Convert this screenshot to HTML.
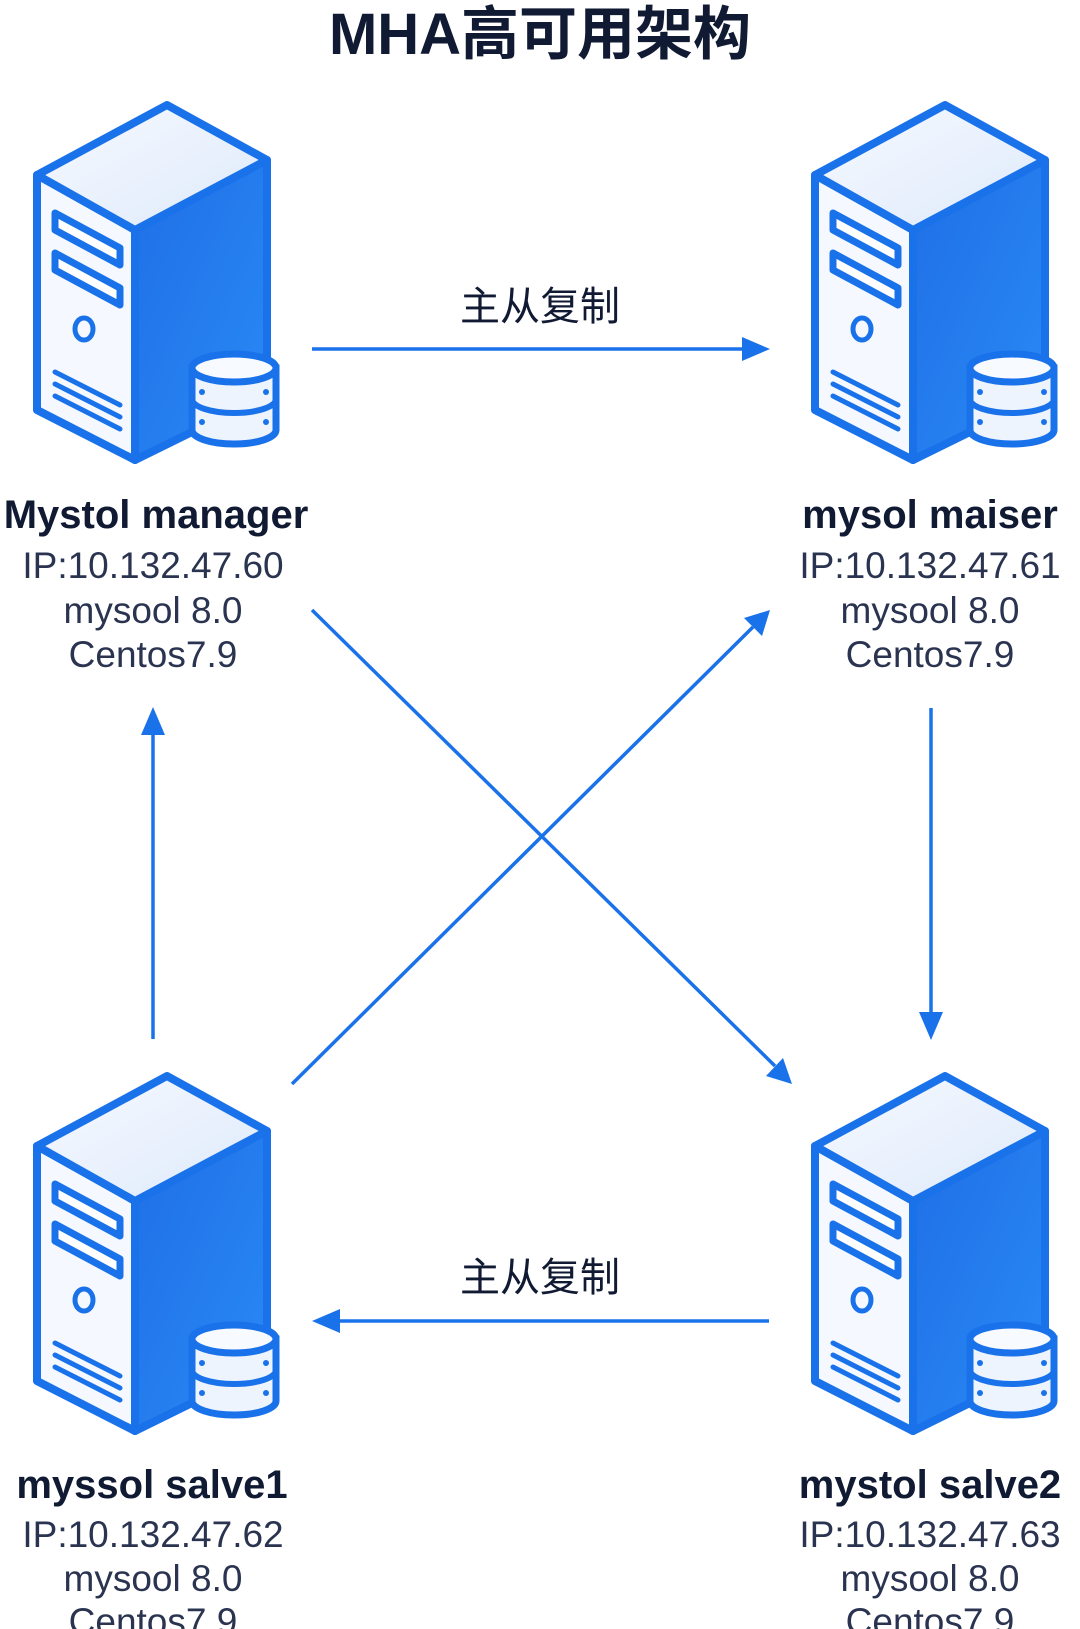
<!DOCTYPE html>
<html><head><meta charset="utf-8"><style>
body{margin:0;background:#fff;}
svg{display:block}
</style></head><body>
<svg width="1080" height="1629" viewBox="0 0 1080 1629" xmlns="http://www.w3.org/2000/svg">
<defs>
<linearGradient id="tp" x1="0" y1="0" x2="1" y2="1"><stop offset="0" stop-color="#f7faff"/><stop offset="1" stop-color="#dde9fb"/></linearGradient>
<linearGradient id="rs" x1="0" y1="0" x2="1" y2="1"><stop offset="0" stop-color="#1f6fe6"/><stop offset="1" stop-color="#2a8af5"/></linearGradient>
<g id="srv">
 <path d="M135,230 L267,160 L267,395 L135,460 Z" fill="url(#rs)" stroke="#1a72ea" stroke-width="8" stroke-linejoin="round"/>
 <path d="M37,175 L135,230 L135,460 L37,410 Z" fill="#f5f9ff" stroke="#1a72ea" stroke-width="8" stroke-linejoin="round"/>
 <path d="M167,105 L267,160 L135,230 L37,175 Z" fill="url(#tp)" stroke="#1a72ea" stroke-width="8" stroke-linejoin="round"/>
 <path d="M55,213 L120,248 L120,265 L55,230 Z" fill="#fff" stroke="#1a72ea" stroke-width="7" stroke-linejoin="round"/>
 <path d="M55,253 L120,288 L120,305 L55,270 Z" fill="#fff" stroke="#1a72ea" stroke-width="7" stroke-linejoin="round"/>
 <ellipse cx="84" cy="329" rx="9" ry="11" fill="none" stroke="#1a72ea" stroke-width="5"/>
 <path d="M55,372 L120,405 M55,384 L120,417 M55,396 L120,429" stroke="#1a72ea" stroke-width="5" stroke-linecap="round"/>
 <path d="M192,368 L192,430 A42,14 0 0 0 276,430 L276,368 Z" fill="#eef4fd" stroke="#1a72ea" stroke-width="7"/>
 <path d="M192,399 A42,14 0 0 0 276,399" fill="none" stroke="#1a72ea" stroke-width="6"/>
 <ellipse cx="234" cy="368" rx="42" ry="14" fill="#f7faff" stroke="#1a72ea" stroke-width="7"/>
 <circle cx="202" cy="392" r="3" fill="#1a72ea"/><circle cx="266" cy="392" r="3" fill="#1a72ea"/>
 <circle cx="202" cy="422" r="3" fill="#1a72ea"/><circle cx="266" cy="422" r="3" fill="#1a72ea"/>
</g>
</defs>
<text x="540" y="54" text-anchor="middle" font-family="Liberation Sans, Noto Sans CJK SC, sans-serif" font-size="58" font-weight="bold" fill="#111a33">MHA高可用架构</text>
<use href="#srv"/>
<use href="#srv" transform="translate(778,0)"/>
<use href="#srv" transform="translate(0,971)"/>
<use href="#srv" transform="translate(778,971)"/>
<g stroke="#1a72ea" stroke-width="3.5" fill="none">
<line x1="312" y1="349" x2="742" y2="349"/>
<path d="M742,337 L770,349 L742,361 Z" fill="#1a72ea" stroke="none"/>
<line x1="769" y1="1321" x2="340" y2="1321"/>
<path d="M340,1309 L312,1321 L340,1333 Z" fill="#1a72ea" stroke="none"/>
<line x1="153" y1="1039" x2="153" y2="735"/>
<path d="M141,735 L153,707 L165,735 Z" fill="#1a72ea" stroke="none"/>
<line x1="931" y1="708" x2="931" y2="1012"/>
<path d="M919,1012 L931,1040 L943,1012 Z" fill="#1a72ea" stroke="none"/>
<line x1="312" y1="610" x2="775" y2="1066"/>
<path d="M766,1076 L792,1084 L783,1058 Z" fill="#1a72ea" stroke="none"/>
<line x1="292" y1="1084" x2="753" y2="627"/>
<path d="M744,618 L770,610 L762,636 Z" fill="#1a72ea" stroke="none"/>
</g>
<g font-family="Liberation Sans, Noto Sans CJK SC, sans-serif" fill="#111a33" text-anchor="middle">
<text x="540" y="320" font-size="40">主从复制</text>
<text x="540" y="1291" font-size="40">主从复制</text>
<g font-size="40" font-weight="bold">
<text x="156" y="528">Mystol manager</text>
<text x="930" y="528">mysol maiser</text>
<text x="152" y="1498">myssol salve1</text>
<text x="930" y="1498">mystol salve2</text>
</g>
<g font-size="37" fill="#2a3450">
<text x="153" y="578">IP:10.132.47.60</text>
<text x="153" y="623">mysool 8.0</text>
<text x="153" y="667">Centos7.9</text>
<text x="930" y="578">IP:10.132.47.61</text>
<text x="930" y="623">mysool 8.0</text>
<text x="930" y="667">Centos7.9</text>
<text x="153" y="1547">IP:10.132.47.62</text>
<text x="153" y="1591">mysool 8.0</text>
<text x="153" y="1634">Centos7.9</text>
<text x="930" y="1547">IP:10.132.47.63</text>
<text x="930" y="1591">mysool 8.0</text>
<text x="930" y="1634">Centos7.9</text>
</g>
</g>
</svg>
</body></html>
